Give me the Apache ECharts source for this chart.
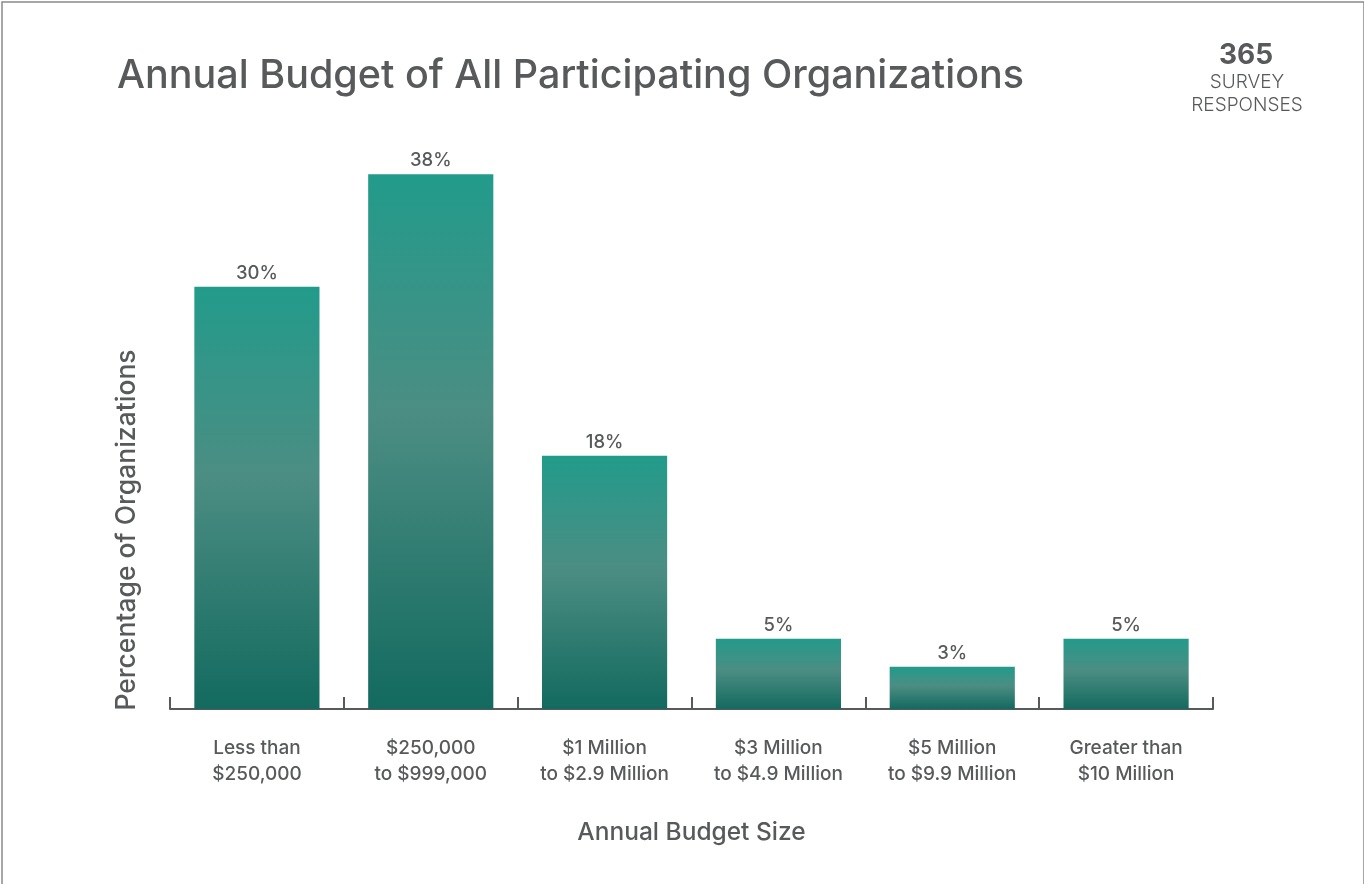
<!DOCTYPE html>
<html>
<head>
<meta charset="utf-8">
<script src="https://cdn.jsdelivr.net/npm/echarts@6/dist/echarts.min.js"></script>
<style>
  html, body { margin: 0; padding: 0; background: #fff; }
  #chart { width: 1364px; height: 884px; }
</style>
</head>
<body>
<div id="chart"></div>
<script>
// 数据
const categories = [
  'Less than\n$250,000',
  '$250,000\nto $999,000',
  '$1 Million\nto $2.9 Million',
  '$3 Million\nto $4.9 Million',
  '$5 Million\nto $9.9 Million',
  'Greater than\n$10 Million'
];
const percents = [30, 38, 18, 5, 3, 5];
const responses = 365;

const textColor = '#58595b';
const fontFamily = 'Inter, sans-serif';

const myChart = echarts.init(document.getElementById('chart'));

const option = {
  backgroundColor: '#fff',
  animation: false,
  textStyle: { fontFamily: fontFamily, color: textColor },
  title: {
    text: 'Annual Budget of All Participating Organizations',
    left: 112,
    top: 51,
    textStyle: { fontSize: 39.5, fontWeight: 500, color: textColor, fontFamily: fontFamily }
  },
  grid: { left: 170, right: 151, top: 146, bottom: 175 },
  xAxis: {
    type: 'category',
    data: categories,
    name: 'Annual Budget Size',
    nameLocation: 'middle',
    nameGap: 111,
    nameTextStyle: { fontSize: 24.5, fontWeight: 500, color: textColor },
    axisLine: { lineStyle: { color: textColor, width: 2 } },
    axisTick: { show: true, inside: true, length: 12, lineStyle: { color: textColor, width: 2 } },
    axisLabel: { color: textColor, fontSize: 19, lineHeight: 26, margin: 26, fontWeight: 500 }
  },
  yAxis: {
    type: 'value',
    min: 0,
    max: 40,
    show: false
  },
  graphic: [
    // 外框
    { type: 'rect', shape: { x: 2, y: 2, width: 1362, height: 900 }, style: { fill: 'none', stroke: '#8a8a8a', lineWidth: 1.5 } },
    // 纵轴标题
    {
      type: 'text', x: 127, y: 530, rotation: Math.PI / 2,
      style: { text: 'Percentage of Organizations', fontSize: 26.5, fontWeight: 500, fill: textColor, fontFamily: fontFamily, align: 'center', verticalAlign: 'middle' }
    },
    {
      type: 'text', x: 1246, y: 56,
      style: { text: String(responses), fontSize: 28, fontWeight: 'bold', fill: textColor, fontFamily: fontFamily, align: 'center', verticalAlign: 'middle' }
    },
    {
      type: 'text', x: 1247, y: 82,
      style: { text: 'SURVEY', fontSize: 19, fontWeight: 300, fill: textColor, fontFamily: fontFamily, align: 'center', verticalAlign: 'middle' }
    },
    {
      type: 'text', x: 1247, y: 105,
      style: { text: 'RESPONSES', fontSize: 19, fontWeight: 300, fill: textColor, fontFamily: fontFamily, align: 'center', verticalAlign: 'middle' }
    }
  ],
  series: [
    {
      type: 'bar',
      data: percents,
      barWidth: '72%',
      itemStyle: {
        color: new echarts.graphic.LinearGradient(0, 0, 0, 1, [
          { offset: 0, color: '#229b8b' },
          { offset: 0.45, color: '#4c8d83' },
          { offset: 1, color: '#136a5f' }
        ])
      },
      label: {
        show: true,
        position: 'top',
        distance: 4,
        formatter: '{c}%',
        fontSize: 18.5,
        fontWeight: 500,
        color: textColor
      }
    }
  ]
};

myChart.setOption(option);
</script>
</body>
</html>
